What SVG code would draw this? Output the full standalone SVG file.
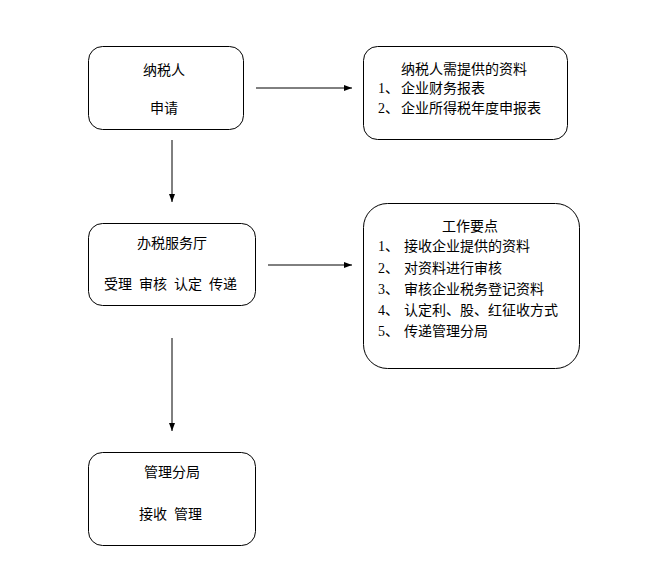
<svg xmlns="http://www.w3.org/2000/svg" width="671" height="568" viewBox="0 0 671 568">
<defs>
<marker id="ah" markerWidth="8" markerHeight="6" refX="8" refY="3" orient="auto" markerUnits="userSpaceOnUse">
<path d="M0,0 L8,3 L0,6 Z" fill="#000"/>
</marker>
</defs>
<style>
.box{fill:#fff;stroke:#000;stroke-width:1}
.t{font-family:"Noto Sans CJK SC","Liberation Sans",sans-serif;font-size:14px;fill:#000}
.n{font-family:"Liberation Serif",serif;font-size:14px;fill:#000}
.c{text-anchor:middle}
.ln{stroke:#000;stroke-width:1;fill:none;marker-end:url(#ah)}
</style>
<rect width="671" height="568" fill="#fff"/>
<g id="connectors">
<line class="ln" x1="256" y1="88" x2="352" y2="88"/>
<line class="ln" x1="268" y1="265" x2="352" y2="265"/>
<line class="ln" x1="172" y1="140" x2="172" y2="202"/>
<line class="ln" x1="172" y1="338" x2="172" y2="431"/>
</g>
<g id="n1">
<rect class="box" x="88.5" y="46.5" width="155" height="83" rx="14"/>
<text class="t c" x="164" y="75">纳税人</text>
<text class="t c" x="164" y="113">申请</text>
</g>
<g id="n2">
<rect class="box" x="363.5" y="46.5" width="204" height="93" rx="14"/>
<text class="t" x="401" y="74">纳税人需提供的资料</text>
<text class="t" x="378" y="93"><tspan class="n">1</tspan>、<tspan x="401">企业财务报表</tspan></text>
<text class="t" x="378" y="113"><tspan class="n">2</tspan>、<tspan x="401">企业所得税年度申报表</tspan></text>
</g>
<g id="n3">
<rect class="box" x="88.5" y="223.5" width="167" height="82" rx="14"/>
<text class="t c" x="172" y="248">办税服务厅</text>
<text class="t" y="289"><tspan x="104">受理</tspan><tspan x="139">审核</tspan><tspan x="174">认定</tspan><tspan x="209">传递</tspan></text>
</g>
<g id="n4">
<rect class="box" x="363.5" y="203.5" width="216" height="165" rx="24"/>
<text class="t c" x="470" y="231">工作要点</text>
<text class="t" x="378" y="251"><tspan class="n">1</tspan>、<tspan x="404">接收企业提供的资料</tspan></text>
<text class="t" x="378" y="273"><tspan class="n">2</tspan>、<tspan x="404">对资料进行审核</tspan></text>
<text class="t" x="378" y="294"><tspan class="n">3</tspan>、<tspan x="404">审核企业税务登记资料</tspan></text>
<text class="t" x="378" y="315"><tspan class="n">4</tspan>、<tspan x="404">认定利、股、红征收方式</tspan></text>
<text class="t" x="378" y="336"><tspan class="n">5</tspan>、<tspan x="404">传递管理分局</tspan></text>
</g>
<g id="n5">
<rect class="box" x="88.5" y="452.5" width="167" height="93" rx="14"/>
<text class="t c" x="172" y="477">管理分局</text>
<text class="t" y="519"><tspan x="139">接收</tspan><tspan x="174">管理</tspan></text>
</g>
</svg>
